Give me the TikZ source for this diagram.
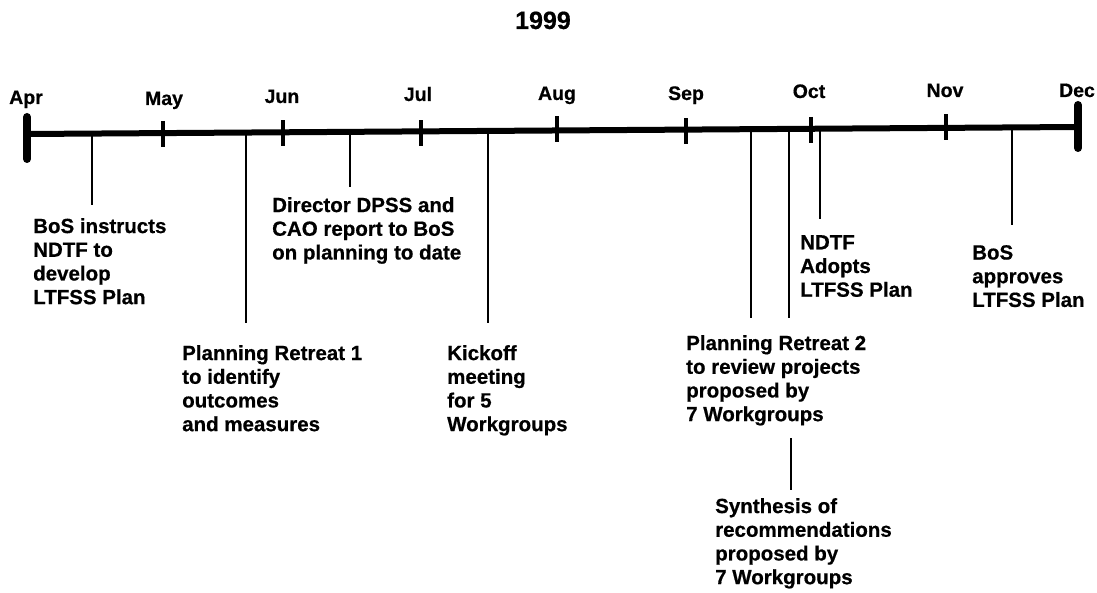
\documentclass[tikz,border=0pt]{standalone}
\usepackage{fontspec}
\setmainfont{Liberation Sans}[BoldFeatures={FakeBold=0.6}]
\begin{document}
\begin{tikzpicture}[x=1pt,y=-1pt,
  lbl/.style={font=\bfseries\fontsize{20.5}{23.7}\selectfont, inner sep=0pt, anchor=north west, align=left},
  mon/.style={font=\bfseries\fontsize{19.5}{23.5}\selectfont, inner sep=0pt, anchor=base},
  axisline/.style={line width=6pt},
  tickmark/.style={line width=3.5pt},
  capbar/.style={line width=8pt, line cap=round},
  evline/.style={line width=2.2pt}]
\useasboundingbox (0,0) rectangle (1097,593);
% title
\node[font=\bfseries\fontsize{25}{30}\selectfont, inner sep=0pt, anchor=base] (title) at (543,29) {1999};
% axis ends
\coordinate (a0) at (27,134);
\coordinate (a1) at (1078,127);
\draw[axisline] (a0) -- (a1);
\draw[capbar] (27,117) coordinate (capAt) -- (27,159) coordinate (capAb);
\draw[capbar] (1078,105) coordinate (capDt) -- (1078,148) coordinate (capDb);
% months
\foreach \nm/\x/\b in {Apr/26/104, May/164/105, Jun/282/103, Jul/418/101, Aug/557/100, Sep/686/100, Oct/809/98, Nov/945/97, Dec/1077/97}{
  \node[mon] (m\nm) at (\x,\b) {\nm};
}
% ticks
\foreach \nm/\x/\y in {May/163/134, Jun/283/133.5, Jul/421/133.5, Aug/557/129.5, Sep/686/131.5, Oct/811/130, Nov/946/127.5}{
  \draw[tickmark] (\x,\y-13) coordinate (t\nm a) -- (\x,\y+13) coordinate (t\nm b);
}
% event points on axis
\coordinate (e1) at (92,133.6);
\coordinate (e2) at (246,132.5);
\coordinate (e3) at (350,131.8);
\coordinate (e4) at (488,130.9);
\coordinate (e5) at (751,129.2);
\coordinate (e6) at (789,128.9);
\coordinate (e7) at (820,128.7);
\coordinate (e8) at (1012,127.4);
% line ends
\coordinate (f1) at (92,205);
\coordinate (f2) at (246,323);
\coordinate (f3) at (350,187);
\coordinate (f4) at (488,323);
\coordinate (f5) at (751,318);
\coordinate (f6) at (789,318);
\coordinate (f7) at (820,219);
\coordinate (f8) at (1012,225);
\coordinate (g6) at (791,438);
\coordinate (h6) at (791,490);
\foreach \i in {1,...,8}{ \draw[evline] (e\i) -- (f\i); }
\draw[evline] (g6) -- (h6);
% labels
\node[lbl] (l1) at (33,218) {BoS instructs\\NDTF to\\develop\\LTFSS Plan};
\node[lbl] (l2) at (182,345) {Planning Retreat 1\\to identify\\outcomes\\and measures};
\node[lbl] (l3) at (272,197) {Director DPSS and\\CAO report to BoS\\on planning to date};
\node[lbl] (l4) at (447,345) {Kickoff\\meeting\\for 5\\Workgroups};
\node[lbl] (l5) at (686,335) {Planning Retreat 2\\to review projects\\proposed by\\7 Workgroups};
\node[lbl] (l6) at (715,498) {Synthesis of\\recommendations\\proposed by\\7 Workgroups};
\node[lbl] (l7) at (800,235) {NDTF\\Adopts\\LTFSS Plan};
\node[lbl] (l8) at (972,245) {BoS\\approves\\LTFSS Plan};
\end{tikzpicture}
\end{document}
